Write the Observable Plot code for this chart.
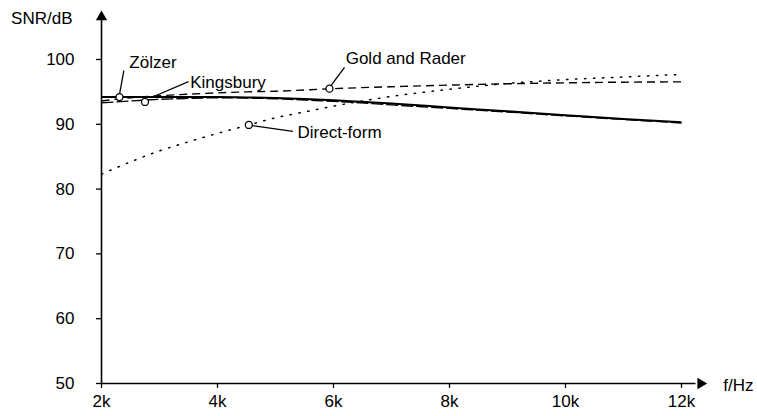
<!DOCTYPE html>
<html>
<head>
<meta charset="utf-8">
<script src="https://cdn.jsdelivr.net/npm/d3@7"></script>
<script src="https://cdn.jsdelivr.net/npm/@observablehq/plot@0.6"></script>
<style>
  html, body { margin: 0; padding: 0; background: #fff; }
  #chart svg { display: block; }
</style>
</head>
<body>
<div id="chart"></div>
<script>
// frequencies in kHz
const freqs = [2, 2.5, 3, 3.5, 4, 4.5, 5, 5.5, 6, 7, 8, 9, 10, 11, 12];
const zoelzer    = [94.2, 94.2, 94.2, 94.2, 94.2, 94.15, 94.05, 93.9, 93.7, 93.2, 92.6, 92.0, 91.4, 90.8, 90.3];
const kingsbury  = [93.3, 93.6, 93.85, 94.0, 94.1, 94.05, 93.95, 93.75, 93.55, 93.0, 92.45, 91.9, 91.3, 90.75, 90.2];
const goldRader  = [93.6, 94.1, 94.4, 94.65, 94.85, 95.0, 95.1, 95.3, 95.5, 95.8, 96.05, 96.25, 96.4, 96.5, 96.55];
const directForm = [82.3, 84.2, 85.9, 87.3, 88.6, 89.8, 91.0, 91.9, 92.8, 94.3, 95.4, 96.3, 96.9, 97.3, 97.7];

const xTicks = [2, 4, 6, 8, 10, 12];
const xTickLabels = ["2k", "4k", "6k", "8k", "10k", "12k"];
const yTicks = [50, 60, 70, 80, 90, 100];

// annotation: marker point, leader start/end, label
const labels      = ["Zölzer", "Kingsbury", "Gold and Rader", "Direct-form"];
const markerF     = [2.31, 2.75, 5.93, 4.54];
const markerDB    = [94.2, 93.45, 95.5, 89.9];
const leadStartF  = [2.31, 2.85, 5.95, 4.60];
const leadStartDB = [94.6, 94.1, 95.9, 89.8];
const leadEndF    = [2.385, 3.50, 6.19, 5.30];
const leadEndDB   = [98.3, 96.6, 98.8, 88.9];
const textF       = [2.48, 3.53, 6.21, 5.38];
const textDB      = [99.6, 96.5, 100.15, 88.7];

const series = [
  {name: "Direct-form", values: directForm, dash: "1.4,7.6", width: 1.5, cap: "round"},
  {name: "Gold and Rader", values: goldRader, dash: "8,5", width: 1.4, cap: "butt"},
  {name: "Kingsbury", values: kingsbury, dash: "12,3", width: 1.4, cap: "butt"},
  {name: "Zölzer", values: zoelzer, dash: null, width: 2, cap: "butt"}
];

const ann = labels.map((l, i) => ({
  label: l, mf: markerF[i], md: markerDB[i],
  sf: leadStartF[i], sd: leadStartDB[i],
  ef: leadEndF[i], ed: leadEndDB[i],
  tf: textF[i], td: textDB[i]
}));

const marks = [];
for (const s of series) {
  marks.push(Plot.line(freqs.map((f, i) => ({f, v: s.values[i]})), {
    x: "f", y: "v", curve: "monotone-x", stroke: "black",
    strokeWidth: s.width, strokeDasharray: s.dash, strokeLinecap: s.cap
  }));
}

// axes lines with arrowheads
marks.push(Plot.ruleX([2], {x: d => d, y1: 50, y2: 106.4, stroke: "black", strokeWidth: 1.6}));
marks.push(Plot.ruleY([50], {y: d => d, x1: 2, x2: 12.25, stroke: "black", strokeWidth: 1.6}));
marks.push(Plot.dot([{f: 2, v: 106.55}], {x: "f", y: "v", symbol: "triangle", r: 4.2, fill: "black", stroke: "none"}));
marks.push(Plot.dot([{f: 12.33, v: 50}], {x: "f", y: "v", symbol: "triangle", r: 4.2, fill: "black", stroke: "none", rotate: 90}));

// ticks and tick labels
marks.push(Plot.axisX({ticks: xTicks, tickFormat: d => xTickLabels[xTicks.indexOf(d)], tickSize: 5, tickPadding: 6, stroke: "black", strokeWidth: 1.3, fontSize: 17, label: null}));
marks.push(Plot.axisY({ticks: yTicks, tickSize: 5, tickPadding: 22, stroke: "black", strokeWidth: 1.3, fontSize: 17, label: null}));

// axis titles
marks.push(Plot.text(["SNR/dB"], {x: () => 2, y: () => 106.3, text: d => d, textAnchor: "end", dx: -29, fontSize: 17, fill: "black"}));
marks.push(Plot.text(["f/Hz"], {x: () => 12.72, y: () => 49.7, text: d => d, textAnchor: "start", fontSize: 17, fill: "black"}));

// annotations
marks.push(Plot.link(ann, {x1: "sf", y1: "sd", x2: "ef", y2: "ed", stroke: "black", strokeWidth: 1.3}));
marks.push(Plot.dot(ann, {x: "mf", y: "md", r: 3.5, fill: "white", stroke: "black", strokeWidth: 1.3}));
marks.push(Plot.text(ann, {x: "tf", y: "td", text: "label", textAnchor: "start", fontSize: 17, fill: "black"}));

const chart = Plot.plot({
  width: 757,
  height: 416,
  marginLeft: 101,
  marginRight: 76,
  marginTop: 59,
  marginBottom: 33,
  x: {type: "linear", domain: [2, 12], axis: null},
  y: {type: "linear", domain: [50, 100], axis: null},
  style: {fontFamily: "'Liberation Sans', Arial, sans-serif", fontSize: "17px", color: "black", background: "white", overflow: "visible"},
  marks
});
document.getElementById("chart").appendChild(chart);
</script>
</body>
</html>
